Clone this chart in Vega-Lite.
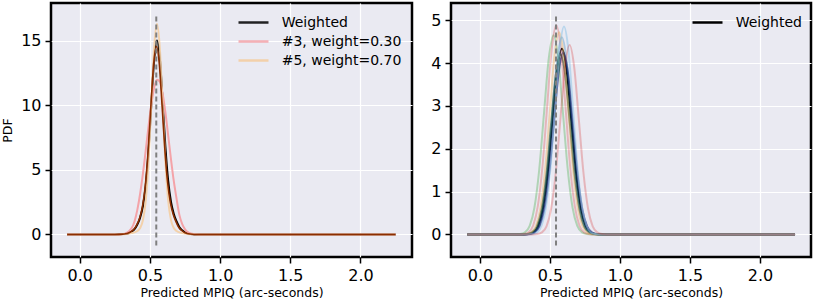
{
"$schema": "https://vega.github.io/schema/vega-lite/v6.json",
"background": "white",
"padding": {"left": 0, "top": 1, "right": 2, "bottom": 0},
"autosize": {"type": "pad"},
"spacing": 15,
"datasets": {
"left": [
{"s":"Weighted","x":-0.09,"y":0},{"s":"Weighted","x":0.25,"y":0},{"s":"Weighted","x":0.31,"y":0.03},{"s":"Weighted","x":0.33,"y":0.06},{"s":"Weighted","x":0.35,"y":0.12},{"s":"Weighted","x":0.37,"y":0.23},{"s":"Weighted","x":0.39,"y":0.41},{"s":"Weighted","x":0.41,"y":0.76},{"s":"Weighted","x":0.43,"y":1.30},{"s":"Weighted","x":0.45,"y":2.19},{"s":"Weighted","x":0.47,"y":3.80},{"s":"Weighted","x":0.49,"y":6.49},{"s":"Weighted","x":0.51,"y":10.11},{"s":"Weighted","x":0.53,"y":13.53},{"s":"Weighted","x":0.55,"y":15.0},{"s":"Weighted","x":0.57,"y":13.67},{"s":"Weighted","x":0.59,"y":10.36},{"s":"Weighted","x":0.61,"y":6.80},{"s":"Weighted","x":0.63,"y":4.14},{"s":"Weighted","x":0.65,"y":2.52},{"s":"Weighted","x":0.67,"y":1.59},{"s":"Weighted","x":0.69,"y":1.01},{"s":"Weighted","x":0.71,"y":0.56},{"s":"Weighted","x":0.73,"y":0.32},{"s":"Weighted","x":0.75,"y":0.17},{"s":"Weighted","x":0.77,"y":0.08},{"s":"Weighted","x":0.79,"y":0.04},{"s":"Weighted","x":0.85,"y":0},{"s":"Weighted","x":2.25,"y":0},
{"s":"#3, weight=0.30","x":-0.09,"y":0},{"s":"#3, weight=0.30","x":0.25,"y":0},{"s":"#3, weight=0.30","x":0.31,"y":0.04},{"s":"#3, weight=0.30","x":0.33,"y":0.1},{"s":"#3, weight=0.30","x":0.35,"y":0.25},{"s":"#3, weight=0.30","x":0.37,"y":0.5},{"s":"#3, weight=0.30","x":0.39,"y":1.0},{"s":"#3, weight=0.30","x":0.41,"y":1.9},{"s":"#3, weight=0.30","x":0.43,"y":3.15},{"s":"#3, weight=0.30","x":0.45,"y":4.7},{"s":"#3, weight=0.30","x":0.47,"y":6.5},{"s":"#3, weight=0.30","x":0.49,"y":8.39},{"s":"#3, weight=0.30","x":0.51,"y":10.08},{"s":"#3, weight=0.30","x":0.53,"y":11.35},{"s":"#3, weight=0.30","x":0.55,"y":11.96},{"s":"#3, weight=0.30","x":0.57,"y":11.81},{"s":"#3, weight=0.30","x":0.59,"y":10.91},{"s":"#3, weight=0.30","x":0.61,"y":9.44},{"s":"#3, weight=0.30","x":0.63,"y":7.65},{"s":"#3, weight=0.30","x":0.65,"y":5.81},{"s":"#3, weight=0.30","x":0.67,"y":4.12},{"s":"#3, weight=0.30","x":0.69,"y":2.74},{"s":"#3, weight=0.30","x":0.71,"y":1.5},{"s":"#3, weight=0.30","x":0.73,"y":0.8},{"s":"#3, weight=0.30","x":0.75,"y":0.4},{"s":"#3, weight=0.30","x":0.77,"y":0.18},{"s":"#3, weight=0.30","x":0.79,"y":0.08},{"s":"#3, weight=0.30","x":0.85,"y":0},{"s":"#3, weight=0.30","x":2.25,"y":0},
{"s":"#5, weight=0.70","x":-0.09,"y":0},{"s":"#5, weight=0.70","x":0.25,"y":0},{"s":"#5, weight=0.70","x":0.31,"y":0.02},{"s":"#5, weight=0.70","x":0.33,"y":0.04},{"s":"#5, weight=0.70","x":0.35,"y":0.07},{"s":"#5, weight=0.70","x":0.37,"y":0.11},{"s":"#5, weight=0.70","x":0.39,"y":0.16},{"s":"#5, weight=0.70","x":0.41,"y":0.27},{"s":"#5, weight=0.70","x":0.43,"y":0.5},{"s":"#5, weight=0.70","x":0.45,"y":1.11},{"s":"#5, weight=0.70","x":0.47,"y":2.64},{"s":"#5, weight=0.70","x":0.49,"y":5.67},{"s":"#5, weight=0.70","x":0.51,"y":10.12},{"s":"#5, weight=0.70","x":0.53,"y":14.46},{"s":"#5, weight=0.70","x":0.55,"y":16.3},{"s":"#5, weight=0.70","x":0.57,"y":14.46},{"s":"#5, weight=0.70","x":0.59,"y":10.12},{"s":"#5, weight=0.70","x":0.61,"y":5.67},{"s":"#5, weight=0.70","x":0.63,"y":2.64},{"s":"#5, weight=0.70","x":0.65,"y":1.11},{"s":"#5, weight=0.70","x":0.67,"y":0.5},{"s":"#5, weight=0.70","x":0.69,"y":0.27},{"s":"#5, weight=0.70","x":0.71,"y":0.16},{"s":"#5, weight=0.70","x":0.73,"y":0.11},{"s":"#5, weight=0.70","x":0.75,"y":0.07},{"s":"#5, weight=0.70","x":0.77,"y":0.04},{"s":"#5, weight=0.70","x":0.79,"y":0.02},{"s":"#5, weight=0.70","x":0.85,"y":0},{"s":"#5, weight=0.70","x":2.25,"y":0},
{"s":"brown","x":-0.09,"y":0},{"s":"brown","x":0.25,"y":0},{"s":"brown","x":0.306,"y":0.03},{"s":"brown","x":0.326,"y":0.06},{"s":"brown","x":0.346,"y":0.12},{"s":"brown","x":0.366,"y":0.22},{"s":"brown","x":0.386,"y":0.40},{"s":"brown","x":0.406,"y":0.74},{"s":"brown","x":0.426,"y":1.26},{"s":"brown","x":0.446,"y":2.12},{"s":"brown","x":0.466,"y":3.69},{"s":"brown","x":0.486,"y":6.30},{"s":"brown","x":0.506,"y":9.81},{"s":"brown","x":0.526,"y":13.12},{"s":"brown","x":0.546,"y":14.55},{"s":"brown","x":0.566,"y":13.26},{"s":"brown","x":0.586,"y":10.05},{"s":"brown","x":0.606,"y":6.60},{"s":"brown","x":0.626,"y":4.02},{"s":"brown","x":0.646,"y":2.44},{"s":"brown","x":0.666,"y":1.54},{"s":"brown","x":0.686,"y":0.98},{"s":"brown","x":0.706,"y":0.54},{"s":"brown","x":0.726,"y":0.31},{"s":"brown","x":0.746,"y":0.16},{"s":"brown","x":0.766,"y":0.08},{"s":"brown","x":0.786,"y":0.04},{"s":"brown","x":0.85,"y":0},{"s":"brown","x":2.25,"y":0}
],
"right": [
{"s":"Weighted","x":-0.09,"y":0},{"s":"Weighted","x":0.313,"y":0},{"s":"Weighted","x":0.347,"y":0.01},{"s":"Weighted","x":0.381,"y":0.05},{"s":"Weighted","x":0.415,"y":0.19},{"s":"Weighted","x":0.449,"y":0.59},{"s":"Weighted","x":0.483,"y":1.41},{"s":"Weighted","x":0.517,"y":2.63},{"s":"Weighted","x":0.551,"y":3.82},{"s":"Weighted","x":0.585,"y":4.33},{"s":"Weighted","x":0.619,"y":3.82},{"s":"Weighted","x":0.653,"y":2.63},{"s":"Weighted","x":0.687,"y":1.41},{"s":"Weighted","x":0.721,"y":0.59},{"s":"Weighted","x":0.755,"y":0.19},{"s":"Weighted","x":0.789,"y":0.05},{"s":"Weighted","x":0.823,"y":0.01},{"s":"Weighted","x":0.857,"y":0},{"s":"Weighted","x":2.25,"y":0},
{"s":"r6","x":-0.09,"y":0},{"s":"r6","x":0.323,"y":0},{"s":"r6","x":0.357,"y":0.01},{"s":"r6","x":0.391,"y":0.05},{"s":"r6","x":0.425,"y":0.19},{"s":"r6","x":0.459,"y":0.58},{"s":"r6","x":0.493,"y":1.38},{"s":"r6","x":0.527,"y":2.58},{"s":"r6","x":0.561,"y":3.75},{"s":"r6","x":0.595,"y":4.25},{"s":"r6","x":0.629,"y":3.75},{"s":"r6","x":0.663,"y":2.58},{"s":"r6","x":0.697,"y":1.38},{"s":"r6","x":0.731,"y":0.58},{"s":"r6","x":0.765,"y":0.19},{"s":"r6","x":0.799,"y":0.05},{"s":"r6","x":0.833,"y":0.01},{"s":"r6","x":0.867,"y":0},{"s":"r6","x":2.25,"y":0},
{"s":"r7","x":-0.09,"y":0},{"s":"r7","x":0.303,"y":0},{"s":"r7","x":0.337,"y":0.01},{"s":"r7","x":0.371,"y":0.05},{"s":"r7","x":0.405,"y":0.18},{"s":"r7","x":0.439,"y":0.57},{"s":"r7","x":0.473,"y":1.36},{"s":"r7","x":0.507,"y":2.55},{"s":"r7","x":0.541,"y":3.71},{"s":"r7","x":0.575,"y":4.2},{"s":"r7","x":0.609,"y":3.71},{"s":"r7","x":0.643,"y":2.55},{"s":"r7","x":0.677,"y":1.36},{"s":"r7","x":0.711,"y":0.57},{"s":"r7","x":0.745,"y":0.18},{"s":"r7","x":0.779,"y":0.05},{"s":"r7","x":0.813,"y":0.01},{"s":"r7","x":0.847,"y":0},{"s":"r7","x":2.25,"y":0},
{"s":"r1","x":-0.09,"y":0},{"s":"r1","x":0.253,"y":0},{"s":"r1","x":0.287,"y":0.01},{"s":"r1","x":0.321,"y":0.05},{"s":"r1","x":0.355,"y":0.20},{"s":"r1","x":0.389,"y":0.63},{"s":"r1","x":0.423,"y":1.51},{"s":"r1","x":0.457,"y":2.82},{"s":"r1","x":0.491,"y":4.10},{"s":"r1","x":0.525,"y":4.65},{"s":"r1","x":0.559,"y":4.10},{"s":"r1","x":0.593,"y":2.82},{"s":"r1","x":0.627,"y":1.51},{"s":"r1","x":0.661,"y":0.63},{"s":"r1","x":0.695,"y":0.20},{"s":"r1","x":0.729,"y":0.05},{"s":"r1","x":0.763,"y":0.01},{"s":"r1","x":0.797,"y":0},{"s":"r1","x":2.25,"y":0},
{"s":"r2","x":-0.09,"y":0},{"s":"r2","x":0.281,"y":0},{"s":"r2","x":0.314,"y":0.01},{"s":"r2","x":0.347,"y":0.05},{"s":"r2","x":0.380,"y":0.21},{"s":"r2","x":0.413,"y":0.66},{"s":"r2","x":0.446,"y":1.58},{"s":"r2","x":0.479,"y":2.96},{"s":"r2","x":0.512,"y":4.31},{"s":"r2","x":0.545,"y":4.88},{"s":"r2","x":0.578,"y":4.31},{"s":"r2","x":0.611,"y":2.96},{"s":"r2","x":0.644,"y":1.58},{"s":"r2","x":0.677,"y":0.66},{"s":"r2","x":0.710,"y":0.21},{"s":"r2","x":0.743,"y":0.05},{"s":"r2","x":0.776,"y":0.01},{"s":"r2","x":0.809,"y":0},{"s":"r2","x":2.25,"y":0},
{"s":"r3","x":-0.09,"y":0},{"s":"r3","x":0.301,"y":0},{"s":"r3","x":0.334,"y":0.01},{"s":"r3","x":0.367,"y":0.05},{"s":"r3","x":0.400,"y":0.21},{"s":"r3","x":0.433,"y":0.64},{"s":"r3","x":0.466,"y":1.53},{"s":"r3","x":0.499,"y":2.86},{"s":"r3","x":0.532,"y":4.17},{"s":"r3","x":0.565,"y":4.72},{"s":"r3","x":0.598,"y":4.17},{"s":"r3","x":0.631,"y":2.86},{"s":"r3","x":0.664,"y":1.53},{"s":"r3","x":0.697,"y":0.64},{"s":"r3","x":0.730,"y":0.21},{"s":"r3","x":0.763,"y":0.05},{"s":"r3","x":0.796,"y":0.01},{"s":"r3","x":0.829,"y":0},{"s":"r3","x":2.25,"y":0},
{"s":"r5","x":-0.09,"y":0},{"s":"r5","x":0.321,"y":0},{"s":"r5","x":0.354,"y":0.01},{"s":"r5","x":0.387,"y":0.05},{"s":"r5","x":0.420,"y":0.20},{"s":"r5","x":0.453,"y":0.62},{"s":"r5","x":0.486,"y":1.49},{"s":"r5","x":0.519,"y":2.79},{"s":"r5","x":0.552,"y":4.06},{"s":"r5","x":0.585,"y":4.6},{"s":"r5","x":0.618,"y":4.06},{"s":"r5","x":0.651,"y":2.79},{"s":"r5","x":0.684,"y":1.49},{"s":"r5","x":0.717,"y":0.62},{"s":"r5","x":0.750,"y":0.20},{"s":"r5","x":0.783,"y":0.05},{"s":"r5","x":0.816,"y":0.01},{"s":"r5","x":0.849,"y":0},{"s":"r5","x":2.25,"y":0},
{"s":"r4","x":-0.09,"y":0},{"s":"r4","x":0.344,"y":0},{"s":"r4","x":0.376,"y":0.01},{"s":"r4","x":0.408,"y":0.05},{"s":"r4","x":0.440,"y":0.21},{"s":"r4","x":0.472,"y":0.66},{"s":"r4","x":0.504,"y":1.57},{"s":"r4","x":0.536,"y":2.94},{"s":"r4","x":0.568,"y":4.28},{"s":"r4","x":0.600,"y":4.85},{"s":"r4","x":0.632,"y":4.28},{"s":"r4","x":0.664,"y":2.94},{"s":"r4","x":0.696,"y":1.57},{"s":"r4","x":0.728,"y":0.66},{"s":"r4","x":0.760,"y":0.21},{"s":"r4","x":0.792,"y":0.05},{"s":"r4","x":0.824,"y":0.01},{"s":"r4","x":0.856,"y":0},{"s":"r4","x":2.25,"y":0},
{"s":"r8","x":-0.09,"y":0},{"s":"r8","x":0.376,"y":0},{"s":"r8","x":0.409,"y":0.01},{"s":"r8","x":0.442,"y":0.05},{"s":"r8","x":0.475,"y":0.19},{"s":"r8","x":0.508,"y":0.60},{"s":"r8","x":0.541,"y":1.44},{"s":"r8","x":0.574,"y":2.68},{"s":"r8","x":0.607,"y":3.90},{"s":"r8","x":0.640,"y":4.42},{"s":"r8","x":0.673,"y":3.90},{"s":"r8","x":0.706,"y":2.68},{"s":"r8","x":0.739,"y":1.44},{"s":"r8","x":0.772,"y":0.60},{"s":"r8","x":0.805,"y":0.19},{"s":"r8","x":0.838,"y":0.05},{"s":"r8","x":0.871,"y":0.01},{"s":"r8","x":0.904,"y":0},{"s":"r8","x":2.25,"y":0}
]
},
"hconcat": [
{
"width": 361, "height": 254,
"layer": [
{"data": {"name": "left"}, "transform": [{"filter": "datum.s === 'Weighted'"}],
 "mark": {"type": "line", "interpolate": "monotone", "strokeWidth": 2},
 "encoding": {
  "x": {"field": "x", "type": "quantitative", "scale": {"domain": [-0.205, 2.367], "nice": false, "zero": false},
        "axis": {"values": [0, 0.5, 1, 1.5, 2], "format": ".1f", "title": "Predicted MPIQ (arc-seconds)"}},
  "y": {"field": "y", "type": "quantitative", "scale": {"domain": [-1.74, 17.9], "nice": false, "zero": false},
        "axis": {"values": [0, 5, 10, 15], "title": "PDF", "titlePadding": 6}},
  "color": {"field": "s", "type": "nominal",
   "scale": {"domain": ["Weighted", "#3, weight=0.30", "#5, weight=0.70"], "range": ["#000000", "#f4a3a8", "#f5cc9e"]},
   "legend": {"title": null, "orient": "none", "legendX": 191, "legendY": 8}}
 }},
{"data": {"name": "left"}, "transform": [{"filter": "datum.s === '#3, weight=0.30'"}],
 "mark": {"type": "line", "interpolate": "monotone", "strokeWidth": 2},
 "encoding": {"x": {"field": "x", "type": "quantitative"}, "y": {"field": "y", "type": "quantitative"},
  "color": {"field": "s", "type": "nominal"}}},
{"data": {"name": "left"}, "transform": [{"filter": "datum.s === '#5, weight=0.70'"}],
 "mark": {"type": "line", "interpolate": "monotone", "strokeWidth": 2, "opacity": 0.85},
 "encoding": {"x": {"field": "x", "type": "quantitative"}, "y": {"field": "y", "type": "quantitative"},
  "color": {"field": "s", "type": "nominal"}}},
{"data": {"name": "left"}, "transform": [{"filter": "datum.s === 'brown'"}],
 "mark": {"type": "line", "interpolate": "monotone", "strokeWidth": 1.6, "color": "#8b2d00"},
 "encoding": {"x": {"field": "x", "type": "quantitative"}, "y": {"field": "y", "type": "quantitative"}}},
{"data": {"values": [{"x": 0.545, "y": -0.85, "y2": 17.0}]},
 "mark": {"type": "rule", "color": "#808080", "strokeWidth": 2, "strokeDash": [5, 3]},
 "encoding": {"x": {"field": "x", "type": "quantitative"}, "y": {"field": "y", "type": "quantitative"}, "y2": {"field": "y2"}}}
]
},
{
"width": 360, "height": 254,
"layer": [
{"data": {"name": "right"}, "transform": [{"filter": "datum.s === 'Weighted'"}],
 "mark": {"type": "line", "interpolate": "monotone", "strokeWidth": 2},
 "encoding": {
  "x": {"field": "x", "type": "quantitative", "scale": {"domain": [-0.207, 2.364], "nice": false, "zero": false},
        "axis": {"values": [0, 0.5, 1, 1.5, 2], "format": ".1f", "title": "Predicted MPIQ (arc-seconds)"}},
  "y": {"field": "y", "type": "quantitative", "scale": {"domain": [-0.525, 5.4], "nice": false, "zero": false},
        "axis": {"values": [0, 1, 2, 3, 4, 5], "title": null}},
  "color": {"field": "s", "type": "nominal", "scale": {"domain": ["Weighted"], "range": ["#000000"]},
   "legend": {"title": null, "orient": "none", "legendX": 245, "legendY": 8}}
 }},
{"data": {"name": "right"}, "transform": [{"filter": "datum.s === 'r6'"}],
 "mark": {"type": "line", "interpolate": "monotone", "strokeWidth": 2, "color": "#1c1c70", "opacity": 0.7},
 "encoding": {"x": {"field": "x", "type": "quantitative"}, "y": {"field": "y", "type": "quantitative"}}},
{"data": {"name": "right"}, "transform": [{"filter": "datum.s === 'r7'"}],
 "mark": {"type": "line", "interpolate": "monotone", "strokeWidth": 2, "color": "#2a5a40", "opacity": 0.7},
 "encoding": {"x": {"field": "x", "type": "quantitative"}, "y": {"field": "y", "type": "quantitative"}}},
{"data": {"name": "right"}, "transform": [{"filter": "datum.s === 'r1'"}],
 "mark": {"type": "line", "interpolate": "monotone", "strokeWidth": 2, "color": "#2ca02c", "opacity": 0.3},
 "encoding": {"x": {"field": "x", "type": "quantitative"}, "y": {"field": "y", "type": "quantitative"}}},
{"data": {"name": "right"}, "transform": [{"filter": "datum.s === 'r2'"}],
 "mark": {"type": "line", "interpolate": "monotone", "strokeWidth": 2, "color": "#d62728", "opacity": 0.27},
 "encoding": {"x": {"field": "x", "type": "quantitative"}, "y": {"field": "y", "type": "quantitative"}}},
{"data": {"name": "right"}, "transform": [{"filter": "datum.s === 'r3'"}],
 "mark": {"type": "line", "interpolate": "monotone", "strokeWidth": 2, "color": "#f0b050", "opacity": 0.4},
 "encoding": {"x": {"field": "x", "type": "quantitative"}, "y": {"field": "y", "type": "quantitative"}}},
{"data": {"name": "right"}, "transform": [{"filter": "datum.s === 'r5'"}],
 "mark": {"type": "line", "interpolate": "monotone", "strokeWidth": 2, "color": "#1f77b4", "opacity": 0.3},
 "encoding": {"x": {"field": "x", "type": "quantitative"}, "y": {"field": "y", "type": "quantitative"}}},
{"data": {"name": "right"}, "transform": [{"filter": "datum.s === 'r4'"}],
 "mark": {"type": "line", "interpolate": "monotone", "strokeWidth": 2, "color": "#8fc4e8", "opacity": 0.55},
 "encoding": {"x": {"field": "x", "type": "quantitative"}, "y": {"field": "y", "type": "quantitative"}}},
{"data": {"name": "right"}, "transform": [{"filter": "datum.s === 'r8'"}],
 "mark": {"type": "line", "interpolate": "monotone", "strokeWidth": 2, "color": "#d62728", "opacity": 0.27},
 "encoding": {"x": {"field": "x", "type": "quantitative"}, "y": {"field": "y", "type": "quantitative"}}},
{"data": {"values": [{"x": 0.543, "y": -0.255, "y2": 5.13}]},
 "mark": {"type": "rule", "color": "#808080", "strokeWidth": 2, "strokeDash": [5, 3]},
 "encoding": {"x": {"field": "x", "type": "quantitative"}, "y": {"field": "y", "type": "quantitative"}, "y2": {"field": "y2"}}}
]
}
],
"resolve": {"scale": {"color": "independent", "x": "independent", "y": "independent"}, "legend": {"color": "independent"}},
"config": {
 "font": "DejaVu Sans",
 "view": {"stroke": "#000000", "strokeWidth": 2.5, "fill": "#EAEAF2"},
 "axis": {"domain": false, "grid": true, "gridColor": "#ffffff", "gridWidth": 1.2, "tickColor": "#000000", "tickSize": 6, "tickWidth": 1.5,
  "labelFont": "DejaVu Sans", "labelFontSize": 16, "labelColor": "#000000", "labelPadding": 4, "labelOverlap": false, "labelFlush": false,
  "titleFont": "DejaVu Sans", "titleFontSize": 12.5, "titleFontWeight": "normal", "titleColor": "#000000", "titlePadding": 3},
 "legend": {"symbolType": "M-1.5,0H1.5", "symbolStrokeWidth": 2.5, "symbolSize": 400, "labelFont": "DejaVu Sans", "labelFontSize": 14,
  "labelColor": "#000000", "labelOffset": 16.7, "rowPadding": 0, "padding": 0, "labelLimit": 300}
}
}
